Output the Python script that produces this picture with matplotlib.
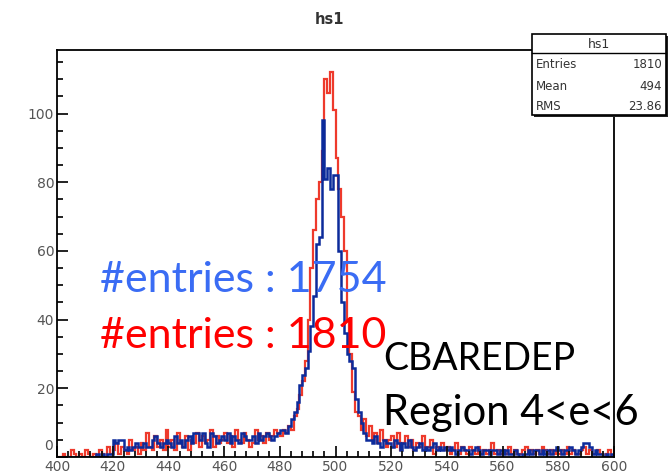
import numpy as np
import matplotlib.pyplot as plt
from matplotlib.patches import Rectangle
from matplotlib.ticker import MultipleLocator, FuncFormatter

# bin edges: 200 bins of width 1 between 400 and 600
edges = np.arange(400, 601, 1)

# red histogram (hs1), one value per bin
red_counts = [
    0, 0, 1, 0, 0, 2, 1, 0, 1, 0, 2, 1, 0, 1, 0, 2, 1, 0, 3, 1,          # 400-419
    2, 4, 1, 3, 2, 1, 5, 2, 3, 1, 4, 2, 7, 3, 2, 6, 3, 5, 2, 8,          # 420-439
    3, 5, 2, 7, 4, 3, 6, 2, 5, 4, 7, 3, 6, 4, 5, 8, 3, 6, 4, 5,          # 440-459
    7, 4, 6, 3, 8, 5, 4, 7, 5, 3, 4, 8, 5, 6, 4, 7, 5, 6, 8, 7,          # 460-479
    6, 8, 7, 9, 8, 12, 14, 18, 22, 28, 40, 55, 66, 75, 80, 89, 110, 106, 112, 101,  # 480-499
    87, 78, 70, 60, 40, 30, 19, 13, 12, 8, 11, 6, 9, 5, 7, 4, 8, 5, 3, 5,           # 500-519
    6, 3, 7, 2, 4, 6, 3, 5, 2, 4, 3, 6, 2, 3, 5, 1, 3, 2, 4, 2,          # 520-539
    3, 1, 2, 4, 1, 3, 2, 1, 3, 2, 1, 3, 1, 2, 1, 2, 4, 1, 2, 1,          # 540-559
    2, 1, 3, 1, 2, 1, 1, 2, 3, 1, 2, 1, 2, 1, 3, 2, 1, 2, 1, 2,          # 560-579
    1, 2, 1, 3, 1, 2, 1, 1, 2, 3, 1, 2, 1, 1, 2, 1, 0, 1, 2, 0,          # 580-599
]

# blue histogram
blue_counts = [
    0, 0, 0, 0, 0, 0, 0, 0, 0, 0, 0, 0, 0, 0, 1, 0, 1, 0, 1, 1,          # 400-419
    5, 4, 5, 5, 2, 3, 2, 3, 4, 3, 3, 4, 3, 3, 5, 6, 4, 3, 4, 5,          # 420-439
    4, 3, 6, 4, 5, 3, 5, 6, 4, 7, 7, 5, 7, 4, 3, 7, 6, 4, 5, 6,          # 440-459
    5, 7, 4, 6, 5, 4, 7, 6, 5, 5, 6, 4, 7, 5, 6, 7, 6, 5, 6, 7,          # 460-479
    8, 8, 7, 9, 11, 13, 16, 21, 24, 26, 31, 38, 47, 62, 64, 98, 81, 84, 78, 82,    # 480-499
    82, 60, 45, 36, 30, 28, 26, 17, 13, 10, 7, 5, 5, 4, 6, 4, 3, 5, 4, 4,          # 500-519
    3, 5, 4, 2, 4, 3, 5, 3, 2, 3, 4, 2, 3, 2, 3, 4, 2, 3, 2, 3,          # 520-539
    2, 3, 2, 1, 2, 3, 2, 2, 1, 2, 3, 2, 1, 2, 2, 1, 2, 2, 1, 2,          # 540-559
    1, 2, 1, 1, 2, 1, 0, 1, 1, 2, 1, 2, 2, 1, 2, 1, 2, 1, 2, 3,          # 560-579
    2, 1, 2, 2, 3, 2, 1, 2, 3, 4, 4, 3, 1, 2, 1, 1, 0, 1, 0, 1,          # 580-599
]

stats_names = ["Entries", "Mean", "RMS"]
stats_values = ["1810", "494", "23.86"]

blue_note = "#entries : 1754"
red_note = "#entries : 1810"
region_note = ["CBAREDEP", "Region 4<e<6"]

W, H = 671, 475
fig = plt.figure(figsize=(W / 100, H / 100), dpi=100)

# pixel -> figure fraction helpers
fx = lambda x: x / W
fy = lambda y: 1 - y / H

ax = fig.add_axes([fx(57), fy(457), (614 - 57) / W, (457 - 50) / H])
ax.stairs(red_counts, edges, color='#ee3a2c', lw=1.6)
ax.stairs(blue_counts, edges, color='#0c2b9b', lw=1.8)

ax.set_xlim(400, 600)
ax.set_ylim(0, 118.5)
ax.xaxis.set_major_locator(MultipleLocator(20))
ax.xaxis.set_minor_locator(MultipleLocator(4))
ax.yaxis.set_major_locator(MultipleLocator(20))
ax.yaxis.set_minor_locator(MultipleLocator(5))
# the "0" of the y axis is drawn separately, a bit higher, so it clears "400"
ax.yaxis.set_major_formatter(FuncFormatter(lambda v, p: '' if v == 0 else '%d' % v))
ax.tick_params(which='both', direction='in', colors='#111', labelcolor='#555',
               labelsize=10, width=1.3)
ax.tick_params(which='major', length=8, pad=2)
ax.tick_params(which='minor', length=4.5)
for lab in ax.get_xticklabels() + ax.get_yticklabels():
    lab.set_family('DejaVu Sans')
for sp in ax.spines.values():
    sp.set_linewidth(1.3)
ax.annotate('0', xy=(0, 0), xycoords=('axes fraction', 'data'), xytext=(-3, 8),
            textcoords='offset points', ha='right', va='center', fontsize=10,
            color='#555', family='DejaVu Sans')

fig.text(fx(330), fy(20), 'hs1', ha='center', va='center', fontsize=10.5,
         fontweight='bold', color='#333')

# stats box (ROOT style) with a small shadow
bx0, by0, bx1, by1 = 532, 34, 666, 115
shadow = Rectangle((fx(bx0 + 2), fy(by1 + 2)), (bx1 - bx0) / W, (by1 - by0) / H,
                   transform=fig.transFigure, facecolor='#222', edgecolor='none', zorder=5)
box = Rectangle((fx(bx0), fy(by1)), (bx1 - bx0) / W, (by1 - by0) / H,
                transform=fig.transFigure, facecolor='white', edgecolor='black',
                lw=1.2, zorder=6)
fig.add_artist(shadow)
fig.add_artist(box)
fig.add_artist(plt.Line2D([fx(bx0), fx(bx1)], [fy(53), fy(53)],
                          transform=fig.transFigure, color='black', lw=1, zorder=7))
fig.text(fx((bx0 + bx1) / 2), fy(44), 'hs1', ha='center', va='center',
         fontsize=9, color='#333', zorder=8)
for i, (name, val) in enumerate(zip(stats_names, stats_values)):
    yy = fy(65 + i * 21)
    fig.text(fx(bx0 + 4), yy, name, ha='left', va='center', fontsize=8.5,
             color='#333', zorder=8)
    fig.text(fx(bx1 - 4), yy, val, ha='right', va='center', fontsize=8.5,
             color='#333', zorder=8)

# big annotations
fig.text(fx(100), fy(292), blue_note, ha='left', va='baseline', fontsize=31,
         family='Lato', color='#3a6cf4', zorder=9)
fig.text(fx(100), fy(348), red_note, ha='left', va='baseline', fontsize=31,
         family='Lato', color='#ff0000', zorder=9)
fig.text(fx(383), fy(370), region_note[0], ha='left', va='baseline', fontsize=27,
         family='Lato', color='black', zorder=9)
fig.text(fx(383), fy(425), region_note[1], ha='left', va='baseline', fontsize=30,
         family='Lato', color='black', zorder=9)

fig.savefig('out.png', dpi=100)
